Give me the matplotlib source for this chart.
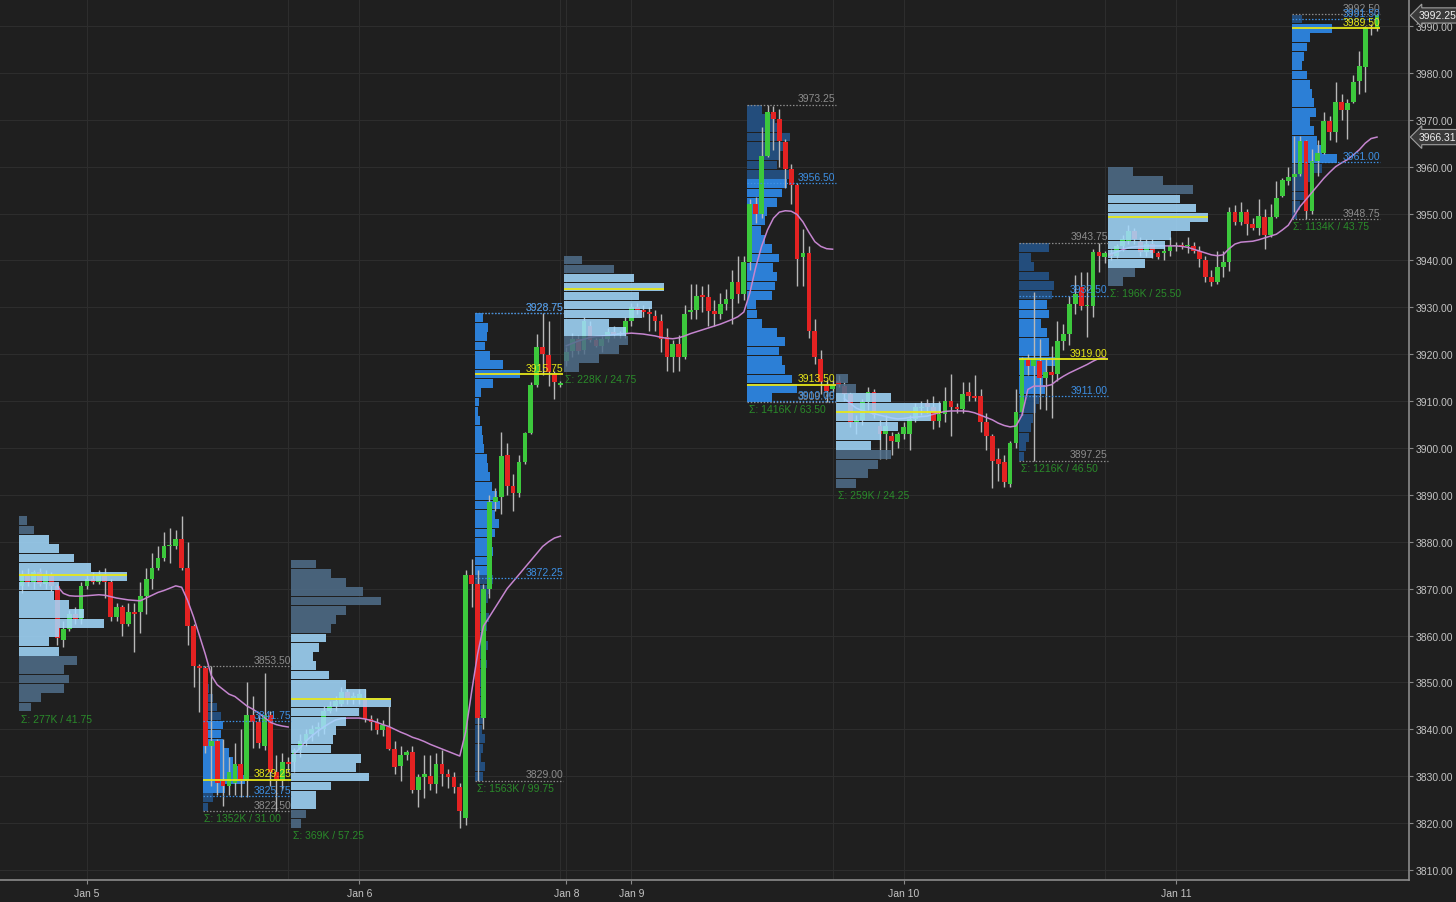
import numpy as np
import matplotlib.pyplot as plt

plt.rcParams['font.family'] = ['Liberation Sans', 'DejaVu Sans']

# 30-minute bars (open, high, low, close), one list per session
eth1 = [
    (3870.5, 3874, 3869, 3873), (3873, 3874.5, 3870.5, 3871.5), (3871.5, 3874, 3870, 3873.5),
    (3873.5, 3874.5, 3870.5, 3871), (3871, 3874, 3870, 3873), (3873, 3873.5, 3869.5, 3870.5),
    (3870.5, 3871, 3858, 3859.5), (3859, 3863, 3857.5, 3861.5), (3861.5, 3865.5, 3861, 3864.5),
    (3864.5, 3866, 3862.5, 3863.5), (3863.5, 3871.5, 3862.5, 3870.5), (3870.5, 3873, 3870, 3872),
    (3872, 3873.5, 3871, 3871.5), (3871.5, 3874, 3871, 3873), (3873, 3874.5, 3868, 3871.5),
    (3871.5, 3872, 3863, 3864), (3864, 3867, 3863, 3866), (3866, 3866.5, 3860, 3862.5),
    (3862.5, 3867, 3862, 3865), (3865, 3867, 3856.5, 3864.5), (3865, 3871.5, 3860.5, 3868.5),
    (3868.5, 3874.5, 3864.5, 3872), (3872, 3877.5, 3870, 3874.5), (3874.5, 3879, 3874, 3876.5),
    (3876.5, 3882, 3876, 3879), (3879, 3883, 3875.5, 3879.25), (3879, 3882.5, 3878.5, 3880.5),
    (3880.5, 3885.5, 3874, 3874.5), (3874.5, 3880, 3858, 3862), (3862, 3862.5, 3849, 3853.5),
    (3853.5, 3854, 3843.75, 3853),
]
rth1 = [
    (3853, 3853.5, 3835, 3836.5), (3836.5, 3853.5, 3828, 3837.5), (3837.5, 3838, 3826, 3828.5),
    (3829, 3838, 3823.75, 3828), (3828, 3834, 3826, 3831), (3828.5, 3837, 3826, 3832.5),
    (3832.5, 3840, 3825.5, 3829), (3829, 3850, 3825.5, 3843), (3843, 3847, 3836, 3841.5),
    (3841.5, 3843, 3836, 3837), (3836.5, 3852, 3835.5, 3843), (3843, 3844, 3828, 3831),
    (3831, 3834.5, 3822.5, 3829), (3829, 3835, 3827, 3833), (3833, 3834, 3831, 3832.5),
]
eth2 = [
    (3833, 3836, 3831, 3835.5), (3835.5, 3839, 3834, 3837.5), (3837.5, 3840, 3836.5, 3839),
    (3839, 3841, 3837.5, 3840), (3840, 3841.5, 3838.5, 3840.5), (3840, 3845, 3839, 3844),
    (3844, 3846, 3843.5, 3845), (3845, 3847, 3844, 3846), (3845.5, 3849, 3845, 3848),
    (3848, 3848.5, 3845.5, 3846.5), (3846.5, 3848, 3845.5, 3847), (3846.5, 3848.5, 3845.5, 3847.5),
    (3846.5, 3848.5, 3841.5, 3842.25), (3842.25, 3843, 3839.75, 3841.5), (3841.5, 3842.5, 3839, 3839.75),
    (3839.75, 3842, 3838.5, 3841), (3840.5, 3845, 3835.5, 3835.75), (3835.75, 3837.5, 3830.5, 3832),
    (3832.25, 3836.5, 3829, 3834.5), (3834.5, 3835.5, 3833.5, 3835.25), (3835.25, 3836.5, 3826.5, 3827),
    (3827, 3830.5, 3823.5, 3829.75), (3829.75, 3834.5, 3825.25, 3830.5), (3830, 3834.5, 3827, 3828.25),
    (3828.25, 3835, 3826.5, 3832.5), (3832.5, 3835.5, 3828, 3830.5), (3830.5, 3831.5, 3827.5, 3829.75),
    (3829.75, 3831, 3826.5, 3827.75), (3827.75, 3828.5, 3819, 3822.5), (3821, 3874, 3819.5, 3873),
    (3873, 3876.25, 3866, 3871),
]
rth2 = [
    (3871, 3874, 3829, 3842.5), (3842.5, 3871, 3840, 3870), (3870, 3890, 3868, 3888.5),
    (3888.5, 3891.5, 3886.5, 3889.5), (3889.5, 3903.5, 3886, 3898.25), (3898.5, 3901, 3890, 3892),
    (3892, 3894.5, 3886.5, 3890.5), (3890.5, 3898.5, 3889.5, 3897), (3897, 3903.5, 3896.5, 3903.25),
    (3903.25, 3914, 3903, 3913.5), (3913.5, 3924.25, 3913, 3921.5), (3921.5, 3928.75, 3915.5, 3920),
    (3919.75, 3927, 3913.25, 3916.25), (3915.75, 3916.5, 3910.5, 3914), (3913.5, 3914.25, 3913, 3913.75),
]
eth3 = [
    (3918.5, 3921.5, 3917.5, 3920.5), (3920.75, 3924.5, 3919.5, 3923.25), (3923.25, 3924, 3920, 3920.75),
    (3921, 3928, 3920, 3927), (3926, 3927, 3922.5, 3923), (3923, 3923.5, 3921.5, 3921.75),
    (3921.75, 3924, 3920.5, 3923.25), (3923.25, 3925.5, 3922.5, 3924.75), (3924.75, 3926, 3923.5, 3924.25),
    (3924.25, 3925, 3923.5, 3924.5), (3924.5, 3928, 3923.5, 3927), (3927, 3931, 3926, 3930),
    (3930, 3931, 3928.5, 3929.5), (3929.5, 3930.5, 3928, 3929), (3929, 3930, 3925, 3928.5),
    (3928.25, 3929.5, 3925, 3927), (3927, 3928.5, 3920.5, 3923.25), (3923.75, 3925.5, 3916.5, 3919.5),
    (3919.5, 3923, 3916.25, 3922.25), (3922.25, 3924, 3916.5, 3919.5), (3919.5, 3930.5, 3919, 3928.5),
    (3929, 3935, 3927.5, 3929.5), (3929.5, 3935, 3927.5, 3932.5), (3932.5, 3934.5, 3929, 3932.25),
    (3932.25, 3935, 3926, 3929.25), (3929.25, 3931.5, 3926, 3928.5), (3928.5, 3933, 3927.5, 3930.75),
    (3930.75, 3934, 3929.5, 3931.75), (3931.75, 3938, 3926.5, 3935.5), (3935.5, 3941, 3931, 3932.75),
    (3932.75, 3941, 3931.5, 3939.75),
]
rth3 = [
    (3939.75, 3953, 3938, 3952), (3952, 3953.5, 3948, 3950), (3950, 3968.5, 3949, 3962.25),
    (3962.25, 3973.25, 3962, 3971.75), (3971.75, 3973, 3963.5, 3970.25), (3970.25, 3972.25, 3960, 3965.5),
    (3965.25, 3966, 3955.5, 3959.5), (3959.5, 3960.5, 3952, 3956), (3956, 3956.5, 3934.5, 3940.25),
    (3940.75, 3946.75, 3934.5, 3941.5), (3941.5, 3943, 3923.5, 3925), (3925, 3927.5, 3918, 3919.5),
    (3919, 3921, 3911.5, 3914), (3913.5, 3914.5, 3909.75, 3912.25), (3912.5, 3914.5, 3912, 3913.5),
]
eth4 = [
    (3914.25, 3915.5, 3913, 3913.5), (3913.25, 3914, 3910, 3911.5), (3911.5, 3912, 3904.5, 3905.5),
    (3905.5, 3907, 3903, 3906), (3906, 3910.5, 3905, 3909.75), (3909.75, 3913, 3908, 3912),
    (3912, 3912.5, 3906.5, 3907), (3904.75, 3906, 3897.75, 3903), (3903, 3907, 3897.75, 3904.75),
    (3902.5, 3903.5, 3898.5, 3901.5), (3901.25, 3903.5, 3900, 3903), (3903, 3905.5, 3902, 3904.5),
    (3903, 3907, 3899.5, 3906.25), (3906.25, 3909.5, 3905.5, 3908.75), (3908.5, 3910, 3907, 3908.75),
    (3909.5, 3910.5, 3907.5, 3908.75), (3908.75, 3911, 3904, 3905.75), (3905.75, 3910, 3904.5, 3907.25),
    (3907.25, 3913, 3905.5, 3910), (3910, 3915.75, 3902.5, 3908.75), (3908.75, 3909.5, 3907.5, 3908.25),
    (3908.25, 3914, 3907.5, 3911.5), (3912, 3914, 3910, 3911), (3911, 3915.5, 3910, 3910.75),
    (3911, 3912.5, 3903.5, 3905.5), (3905.5, 3907.5, 3899.5, 3902.5), (3902.5, 3903, 3891.5, 3897.25),
    (3897.75, 3900, 3893, 3896.5), (3897, 3898.5, 3891.75, 3892.75), (3892.25, 3901.5, 3891.75, 3901),
    (3901, 3912.5, 3900, 3907.75),
]
rth4 = [
    (3907.75, 3919.5, 3907, 3919), (3919, 3920, 3915.5, 3917.5), (3917.5, 3933.25, 3897.25, 3919),
    (3918.5, 3923.25, 3908.25, 3915), (3915, 3919, 3908, 3916.25), (3916.25, 3921.75, 3906.5, 3915.5),
    (3915.75, 3927, 3914.25, 3922.75), (3922.75, 3926.5, 3921, 3924.25), (3924.25, 3932.5, 3922, 3930.75),
    (3930.75, 3937, 3928.5, 3932.75), (3934.25, 3937.5, 3929.5, 3930.25), (3930.25, 3937.5, 3923.75, 3930.5),
    (3930.25, 3942.5, 3928, 3941.75), (3941.75, 3943.75, 3937.5, 3941), (3940.75, 3942, 3939.5, 3941.5),
]
eth5 = [
    (3941.5, 3942.5, 3940, 3941), (3941, 3943.5, 3940.5, 3943), (3943, 3945.5, 3942, 3944.5),
    (3944.25, 3947.5, 3943.5, 3946.25), (3946.25, 3947, 3943.5, 3944.5), (3944, 3945, 3941, 3941.75),
    (3941.75, 3944.5, 3941, 3943.5), (3943.5, 3944.5, 3940.5, 3941.5), (3941.5, 3942, 3940.25, 3940.75),
    (3941.5, 3943, 3940, 3942), (3942, 3945, 3941, 3943), (3943, 3944, 3942, 3943.25),
    (3943.25, 3944, 3942.5, 3943), (3943, 3945, 3941.5, 3943.25), (3943, 3944, 3941.5, 3942),
    (3942, 3943, 3938.5, 3940.25), (3940, 3941, 3935.5, 3936.5), (3936.5, 3938, 3934.5, 3935.5),
    (3935.5, 3942, 3935, 3938.5), (3938.5, 3942, 3936.5, 3939.75), (3939.75, 3951.5, 3937.75, 3950.25),
    (3950.25, 3951.75, 3947.5, 3948.25), (3948.25, 3952.5, 3947.5, 3950.25), (3950.25, 3951, 3945.5, 3947.75),
    (3947.75, 3949, 3946.5, 3947), (3947, 3953, 3945.5, 3949.5), (3949.25, 3951, 3942.5, 3945.5),
    (3945.5, 3952, 3945, 3949.25), (3949.25, 3957, 3949, 3953.25), (3953.75, 3957.5, 3953.5, 3957.25),
    (3957, 3960, 3956, 3957.75),
]
rth5 = [
    (3957.75, 3966.5, 3950.25, 3958.5), (3958.5, 3966.5, 3958, 3965.5), (3965.5, 3965.75, 3948.75, 3950.5),
    (3950.5, 3963.75, 3950, 3961.25), (3961.25, 3965.75, 3958, 3963), (3963, 3971.75, 3962.75, 3969.75),
    (3969.75, 3970.75, 3965.75, 3967.5), (3967.5, 3978, 3965.25, 3973.75), (3973.75, 3975.5, 3970, 3972),
    (3972, 3974.5, 3966, 3973.5), (3973.75, 3979.5, 3973.5, 3978), (3978.25, 3984.75, 3975.5, 3981.5),
    (3981.25, 3990, 3976, 3989.75), (3989.75, 3990.5, 3988, 3989.5), (3989.5, 3992.5, 3989, 3992.25),
]

# moving average, one list per trading day (None = not drawn)
ma_day1 = [None, None, None, None, None, None,
           3870.5, 3869, 3868.5, 3868.4, 3868.4, 3868.5, 3868.6, 3868.7, 3868.6, 3868.3,
           3868, 3867.8, 3867.6, 3867.5, 3867.4, 3868, 3868.6, 3869.2, 3869.6, 3870.1,
           3870.6, 3870.3, 3867.5, 3864, 3860, 3856, 3851.5, 3849.5, 3848.5, 3847.5,
           3847, 3846, 3845, 3844.3, 3843.5, 3842.5, 3841.5, 3841, 3840.7, 3840.5]
ma_day2 = [3834.7, 3836, 3837.5, 3838.6, 3839.6, 3840.5, 3841.3, 3842, 3842.3, 3842.4,
           3842.4, 3842.4, 3842.2, 3841.9, 3841.5, 3841, 3840.6, 3840, 3839.4, 3838.9,
           3838.3, 3837.9, 3837.4, 3836.8, 3836.3, 3835.8, 3835.3, 3834.8, 3834.3, 3839.5,
           3848, 3856, 3862, 3864, 3866, 3868, 3870, 3871.5, 3873, 3874.5,
           3876, 3877.5, 3879, 3880, 3880.8, 3881.2]
ma_day3 = [3921.8, 3922.3, 3922.8, 3923.2, 3923.6, 3923.8, 3923.9, 3924, 3924.2, 3924.3,
           3924.4, 3924.5, 3924.4, 3924.3, 3924.1, 3923.9, 3923.6, 3923.4, 3923.3, 3923.5,
           3923.9, 3924.4, 3924.8, 3925.2, 3925.6, 3926, 3926.4, 3926.9, 3927.4, 3928,
           3929, 3933, 3938.5, 3943, 3946.5, 3949, 3950.3, 3950.6, 3950.5, 3949.8,
           3948.2, 3946, 3944, 3943, 3942.5, 3942.4]
ma_day4 = [None,
           3910.5, 3909.5, 3908.5, 3908, 3907.7, 3907.3, 3907, 3906.7, 3906.4, 3906.2,
           3906.3, 3906.5, 3906.6, 3906.7, 3906.8, 3907.2, 3907.5, 3907.8, 3907.9, 3907.9,
           3907.9, 3907.8, 3907.5, 3907, 3906.5, 3906, 3905.3, 3904.8, 3904.5, 3904.7,
           3907, 3912.5, 3913.2, 3913.2, 3913.2, 3913.5, 3914.5, 3915.3, 3916, 3916.6,
           3917.2, 3917.8, 3918.5, 3919.1, 3919.2]
ma_day5 = [3941.4, 3941.8, 3942.3, 3942.7, 3942.9, 3943, 3943.1, 3943.1, 3943.1, 3943.1,
           3943.1, 3943.1, 3943, 3942.8, 3942.4, 3942, 3941.6, 3941.2, 3941, 3941.2,
           3942.5, 3943.5, 3943.9, 3944, 3944.1, 3944.4, 3944.8, 3945.2, 3945.6, 3946.5,
           3947.5, 3949.5, 3951.5, 3953, 3954.5, 3956, 3957.5, 3958.8, 3960, 3960.8,
           3961.5, 3962.5, 3963.6, 3965, 3966, 3966.31]

# volume profile per session (relative volume per price row, bottom -> top)
vol_eth1 = [12, 22, 45, 50, 45, 58, 40, 30, 40, 85, 65, 50, 35, 40, 108, 72, 55, 40, 30, 15, 8]
vol_rth1 = [5, 10, 22, 42, 38, 30, 26, 20, 18, 20, 18, 14, 10, 6, 3, 2]
vol_eth2 = [10, 15, 25, 25, 40, 78, 65, 70, 40, 42, 45, 55, 68, 100, 75, 55, 38, 25, 22, 28,
            35, 40, 45, 55, 90, 72, 55, 40, 25]
vol_rth2 = [8, 10, 6, 8, 10, 7, 8, 10, 7, 9, 11, 8, 12, 10, 13, 10, 12, 14, 11, 13,
            15, 18, 16, 14, 18, 15, 20, 24, 20, 25, 22, 17, 15, 13, 12, 9, 8, 7, 5, 3,
            4, 6, 18, 45, 28, 15, 10, 12, 13, 8]
vol_eth3 = [15, 35, 55, 64, 62, 45, 78, 88, 75, 100, 70, 50, 18]
vol_rth3 = [25, 50, 45, 38, 35, 32, 38, 30, 15, 10, 9, 25, 28, 30, 26, 32, 25, 18, 14, 18,
            20, 30, 35, 40, 45, 30, 32, 40, 43, 35, 28, 15]
vol_eth4 = [20, 32, 42, 55, 35, 45, 62, 95, 105, 55, 20, 12]
vol_rth4 = [5, 7, 10, 12, 14, 17, 20, 26, 24, 28, 36, 30, 30, 28, 22, 30, 28, 33, 35, 30, 15, 12, 30]
vol_eth5 = [15, 27, 37, 45, 57, 63, 82, 100, 88, 72, 85, 55, 25]
vol_rth5 = [5, 8, 12, 15, 20, 30, 45, 30, 25, 22, 18, 24, 22, 20, 18, 15, 10, 12, 15, 18, 40, 10]

prof_low = [3843.75, 3822.5, 3819.0, 3829.0, 3916.25, 3909.75, 3891.5, 3897.25, 3934.5, 3948.75]
prof_high = [3885.5, 3853.5, 3876.25, 3928.75, 3941.0, 3973.25, 3915.75, 3943.75, 3960.0, 3992.5]
prof_poc = [3873.0, 3829.25, 3846.5, 3915.75, 3934.0, 3913.5, 3907.75, 3919.0, 3949.25, 3989.5]
prof_val = [3856.0, 3825.75, 3823.0, 3872.25, 3923.75, 3910.0, 3900.5, 3911.0, 3938.5, 3961.0]
prof_vah = [3881.0, 3841.75, 3860.0, 3928.75, 3937.75, 3956.5, 3912.5, 3932.5, 3953.5, 3991.5]
prof_total = ['277K', '1352K', '369K', '1563K', '228K', '1416K', '259K', '1216K', '196K', '1134K']

date_labels = ['Jan 5', 'Jan 6', 'Jan 8', 'Jan 9', 'Jan 10', 'Jan 11']
date_bars = [11, 57, 92, 103, 149, 195]

# ---- build ----
sessions = [eth1, rth1, eth2, rth2, eth3, rth3, eth4, rth4, eth5, rth5]
vols = [vol_eth1, vol_rth1, vol_eth2, vol_rth2, vol_eth3, vol_rth3, vol_eth4, vol_rth4, vol_eth5, vol_rth5]
ohlc = np.array([b for s in sessions for b in s], dtype=float)
o, h, l, c = ohlc.T
x = np.arange(len(ohlc))
ma_days = [ma_day1, ma_day2, ma_day3, ma_day4, ma_day5]

BG = '#1f1f1f'
GRID = '#2d2d2d'
UP = '#3cc83c'
DOWN = '#e32222'
PX = 1 / 5.918          # bar units per volume unit

fig = plt.figure(figsize=(14.56, 9.03), dpi=100, facecolor=BG)
ax = fig.add_axes([0, 0.0244, 0.9677, 0.9756], facecolor=BG)
ax.set_xlim(-3.7, 234.4)
ax.set_ylim(3807.87, 3995.76)

# grid
ax.set_yticks(np.arange(3810, 3995, 10))
ax.yaxis.grid(True, color=GRID, lw=0.8)
for gx in [11, 45, 57, 91, 92, 103, 137, 149, 183, 195]:
    ax.axvline(gx, color=GRID, lw=0.8, zorder=0)
ax.set_axisbelow(True)

# candles
body_lo = np.minimum(o, c)
body_h = np.maximum(np.abs(c - o), 0.3)
up = c >= o
ax.vlines(x, l, h, color='#b8b8b8', lw=1, zorder=2.5)
ax.bar(x[up], body_h[up], bottom=body_lo[up], width=0.8, color=UP, lw=0, zorder=3)
ax.bar(x[~up], body_h[~up], bottom=body_lo[~up], width=0.8, color=DOWN, lw=0, zorder=3)

# moving average
start = 0
for day in ma_days:
    vals = np.array(day, dtype=float)
    ax.plot(np.arange(start, start + len(vals)), vals, color='#c585cf', lw=1.1, zorder=3.5)
    start += len(vals)

# volume profiles
start = 0
for k, sess in enumerate(sessions):
    end = start + len(sess) - 1
    rth = k % 2 == 1
    left, right = start - 0.45, end + 0.5
    v = np.array(vols[k], dtype=float)
    edges = np.linspace(prof_low[k], prof_high[k], len(v) + 1)
    hgt = edges[1] - edges[0]
    mids = edges[:-1] + hgt / 2
    in_va = (mids >= prof_val[k]) & (mids <= prof_vah[k])
    if rth:
        cols = np.where(in_va, '#2c7fd6', '#234d7c')
        ax.barh(mids, v * PX, height=hgt * 0.94, left=left, color=cols, lw=0, zorder=1.5)
    else:
        cols = np.where(in_va, '#a4daff', '#4f6e8a')
        ax.barh(mids, v * PX, height=hgt * 0.94, left=left, color=cols, lw=0, alpha=0.86, zorder=4)

    rng = prof_high[k] - prof_low[k]
    ax.text(left + 0.3, prof_low[k] - 0.4, f'Σ: {prof_total[k]} / {rng:.2f}', color='#2a8a2a',
            fontsize=7.5, ha='left', va='top', zorder=6)

    if rth:
        dot = (0, (1.2, 1.4))
        for price, col in [(prof_high[k], '#8c8c8c'), (prof_low[k], '#8c8c8c'),
                           (prof_vah[k], '#3d8fe3'), (prof_val[k], '#3d8fe3')]:
            ax.hlines(price, left, right, colors=col, linestyles=dot, lw=0.9, zorder=5)
            ax.text(right, price + 0.3, f'{price:.2f}', color=col, fontsize=7.5,
                    ha='right', va='bottom', zorder=6)
        ax.hlines(prof_poc[k], left, right, colors='#e6e619', lw=1.3, zorder=5)
        ax.text(right, prof_poc[k] + 0.3, f'{prof_poc[k]:.2f}', color='#e6e619', fontsize=7.5,
                ha='right', va='bottom', zorder=6)
    else:
        ax.hlines(prof_poc[k], left, left + v.max() * PX, colors='#e6e619', lw=1.3, zorder=5)
    start = end + 1

# axes styling
for side in ['left', 'top']:
    ax.spines[side].set_visible(False)
for side in ['right', 'bottom']:
    ax.spines[side].set_color('#8a8a8a')
    ax.spines[side].set_linewidth(1.2)
ax.yaxis.tick_right()
ax.yaxis.set_major_formatter(plt.FuncFormatter(lambda v, p: f'{v:.2f}'))
ax.tick_params(axis='y', colors='#8a8a8a', labelcolor='#c4c4c4', labelsize=7.5, length=3, pad=2)
ax.set_xticks(date_bars)
ax.set_xticklabels(date_labels)
ax.tick_params(axis='x', colors='#8a8a8a', labelcolor='#c4c4c4', labelsize=7.5, length=3, pad=3)

# price tags
for val in [c[-1], ma_day5[-1]]:
    ax.annotate(f'{val:.2f}', xy=(1.0, val), xycoords=ax.get_yaxis_transform(),
                xytext=(7, 0), textcoords='offset points', ha='left', va='center',
                color='#f0f0f0', fontsize=7.5, annotation_clip=False, zorder=10,
                bbox=dict(boxstyle='larrow,pad=0.25', fc='#3a3a3a', ec='#a0a0a0', lw=0.8))

fig.savefig('out.png', dpi=100, facecolor=BG)
